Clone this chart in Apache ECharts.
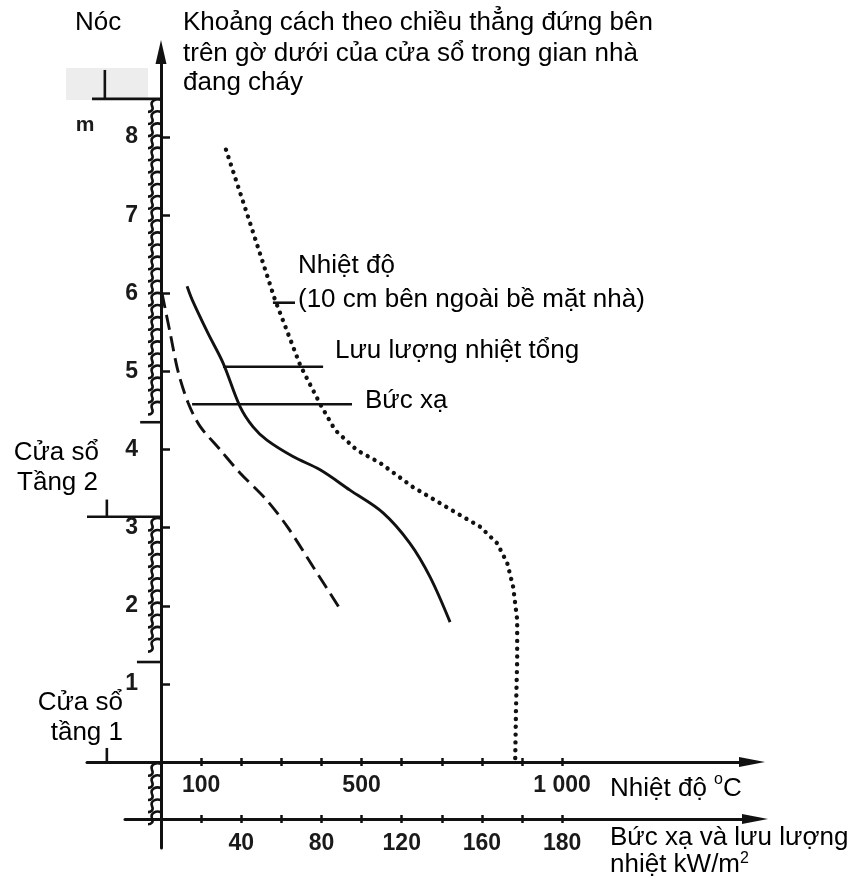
<!DOCTYPE html>
<html>
<head>
<meta charset="utf-8">
<script src="https://cdn.jsdelivr.net/npm/echarts@6/dist/echarts.min.js"></script>
<style>
  html, body { margin: 0; padding: 0; background: #fff; }
  #chart { width: 854px; height: 888px; }
</style>
</head>
<body>
<div id="chart"></div>
<script>
// ---- Axis ticks and labels ----
const heightTicks = [1, 2, 3, 4, 5, 6, 7, 8];                 // m
const tempTicks = [100, 200, 300, 400, 500, 600, 700, 800, 900, 1000];
const tempLabelValues = [100, 500, 1000];
const tempLabelTexts = ['100', '500', '1 000'];
const fluxTicks = [20, 40, 60, 80, 100, 120, 140, 160, 180, 200];
const fluxLabelValues = [40, 80, 120, 160, 200];
const fluxLabelTexts = ['40', '80', '120', '160', '180'];

// ---- Curves: value along the horizontal axis vs. height (m) ----
// Temperature 10 cm outside the facade (°C)
const tempHeights = [7.84, 6.98, 5.92, 5.08, 4.58, 4.25, 3.99, 3.83, 3.52, 3.26, 3.01, 2.80, 2.55, 2.24, 1.82, 1.31, 0.67, 0];
const tempValues  = [162, 217, 284, 347, 397, 434, 489, 546, 628, 713, 796, 838, 863, 878, 888, 888, 885, 883];
// Total heat flux (kW/m2)
const totalFluxHeights = [6.09, 5.92, 5.49, 5.11, 4.55, 4.29, 4.12, 3.91, 3.74, 3.48, 3.19, 2.80, 2.37, 1.79];
const totalFluxValues  = [13.0, 15.5, 23.4, 30.9, 39.4, 45.9, 52.8, 65.8, 79.3, 94.2, 110.7, 124.1, 134.1, 144.1];
// Radiation (kW/m2)
const radiationHeights = [6.0, 5.5, 5.0, 4.6, 4.3, 4.0, 3.7, 3.35, 3.0, 2.5, 1.92];
const radiationValues  = [0.5, 4.5, 8.5, 13.5, 19.4, 29.4, 39.4, 52.8, 63.3, 75.8, 90.2];

// Label leader lines
const tempLeader = [[279, 5.88], [334, 5.88]];
const totalFluxLeader = [[30.9, 5.06], [80.8, 5.06]];
const radiationLeader = [[15.5, 4.58], [95.2, 4.58]];

// Facade sketch left of the wall (temperature axis units, m)
const facadeLines = [
  [[-172, 8.49], [0, 8.49]],      // roof
  [[-140, 8.49], [-140, 8.86]],
  [[-184.5, 3.14], [0, 3.14]],    // 2nd floor window sill
  [[-135, 3.14], [-135, 3.36]],
  [[-135, 0], [-135, 0.18]],      // 1st floor window sill
  [[-52, 4.35], [0, 4.35]],       // 2nd floor window head
  [[-60, 1.28], [0, 1.28]]        // 1st floor window head
];
// Solid wall stretches (m) that get hatched
const wallRanges = [[8.40, 4.42], [3.04, 1.34], [-0.1, -0.72]];
const hatchStep = 0.155;

const pair = (xs, ys) => xs.map((v, i) => [v, ys[i]]);
const hatchData = [];
wallRanges.forEach(([top, bottom]) => {
  for (let h = top; h >= bottom - 1e-6; h -= hatchStep) hatchData.push([0, +h.toFixed(3)]);
});

const ink = '#111';
const TXT = '"Liberation Sans", Arial, sans-serif';
const tickFont = { fontFamily: TXT, fontSize: 23, fontWeight: 'bold', color: '#1a1a1a' };

// text width helper for the superscripts
const measureCtx = document.createElement('canvas').getContext('2d');
const textWidth = (s, font) => { measureCtx.font = font; return measureCtx.measureText(s).width; };

const chart = echarts.init(document.getElementById('chart'), null, { renderer: 'canvas' });

const lineSeries = (data, xi, yi, style) => ({
  type: 'line', xAxisIndex: xi, yAxisIndex: yi, data: data,
  showSymbol: false, symbol: 'none', silent: true, animation: false, clip: false,
  lineStyle: Object.assign({ color: ink, width: 2.6 }, style)
});

const textEl = (text, x, y, opt) => ({
  type: 'text', x: x, y: y, z: 100, silent: true,
  style: Object.assign({
    text: text, fill: '#000', font: '26px ' + TXT,
    align: 'left', verticalAlign: 'middle'
  }, opt || {})
});

const hiddenY = (gi, min, max) => ({ gridIndex: gi, type: 'value', min: min, max: max, show: false });
const tickStyle = { color: ink, width: 2.5 };
const noGridLines = { splitLine: { show: false } };
const G = (o) => Object.assign({ outerBoundsMode: 'none', containLabel: false }, o);

const option = {
  animation: false,
  backgroundColor: '#fff',
  grid: [
    G({ left: 161, right: 102, top: 52, bottom: 40 }),   // wall / height axis
    G({ left: 87, right: 102, top: 52, bottom: 126 }),   // temperature
    G({ left: 87, right: 102, top: 762, height: 10 }),   // temperature ticks, upper half
    G({ left: 125, right: 99, top: 52, bottom: 69 }),    // heat flux
    G({ left: 125, right: 99, top: 819, height: 10 })    // heat flux ticks, upper half
  ],
  xAxis: [
    Object.assign({ gridIndex: 0, type: 'value', min: 0, max: 100, show: false }, noGridLines),
    Object.assign({ // temperature axis
      gridIndex: 1, type: 'value', position: 'bottom', min: -184.5, max: 1473.4,
      axisLine: { onZero: false, symbol: ['none', 'triangle'], symbolSize: [10, 26],
        lineStyle: { color: ink, width: 3 } },
      axisTick: { show: true, inside: false, length: 4, customValues: tempTicks, lineStyle: tickStyle },
      axisLabel: Object.assign({ show: true, margin: 12, customValues: tempLabelValues,
        formatter: v => tempLabelTexts[tempLabelValues.indexOf(v)] }, tickFont)
    }, noGridLines),
    Object.assign({
      gridIndex: 2, type: 'value', position: 'top', min: -184.5, max: 1473.4,
      axisLine: { show: false, onZero: false },
      axisTick: { show: true, inside: false, length: 4, customValues: tempTicks, lineStyle: tickStyle },
      axisLabel: { show: false }
    }, noGridLines),
    Object.assign({ // heat flux axis
      gridIndex: 3, type: 'value', position: 'bottom', min: -17.95, max: 296.1,
      axisLine: { onZero: false, symbol: ['none', 'triangle'], symbolSize: [10, 26],
        lineStyle: { color: ink, width: 3 } },
      axisTick: { show: true, inside: false, length: 4, customValues: fluxTicks, lineStyle: tickStyle },
      axisLabel: Object.assign({ show: true, margin: 13, customValues: fluxLabelValues,
        formatter: v => fluxLabelTexts[fluxLabelValues.indexOf(v)] }, tickFont)
    }, noGridLines),
    Object.assign({
      gridIndex: 4, type: 'value', position: 'top', min: -17.95, max: 296.1,
      axisLine: { show: false, onZero: false },
      axisTick: { show: true, inside: false, length: 4, customValues: fluxTicks, lineStyle: tickStyle },
      axisLabel: { show: false }
    }, noGridLines)
  ],
  yAxis: [
    Object.assign({ // height above the lower window ledge
      gridIndex: 0, type: 'value', position: 'left', min: -1.101, max: 9.09,
      axisLine: { onZero: false, symbol: ['none', 'triangle'], symbolSize: [11, 24],
        lineStyle: { color: ink, width: 3 } },
      axisTick: { show: true, inside: true, length: 9, customValues: heightTicks, lineStyle: tickStyle },
      axisLabel: Object.assign({ show: true, margin: 23, customValues: heightTicks }, tickFont)
    }, noGridLines),
    hiddenY(1, 0, 9.09),
    hiddenY(2, -1, 1),
    hiddenY(3, -0.730, 9.09),
    hiddenY(4, -1, 1)
  ],
  series: [
    lineSeries(pair(tempValues, tempHeights), 1, 1,
      { width: 4.4, type: [0.01, 7.8], cap: 'round' }),
    Object.assign(lineSeries(pair(totalFluxValues, totalFluxHeights), 3, 3, { width: 2.9 }), { smooth: 0.35 }),
    Object.assign(lineSeries(pair(radiationValues, radiationHeights), 3, 3,
      { width: 2.9, type: [15, 7] }), { smooth: 0.3 }),
    lineSeries(tempLeader, 1, 1, { width: 2.6 }),
    lineSeries(totalFluxLeader, 3, 3, { width: 2.6 }),
    lineSeries(radiationLeader, 3, 3, { width: 2.6 }),
    ...facadeLines.map(seg => lineSeries(seg, 1, 1, { width: 2.6 })),
    {
      type: 'custom', xAxisIndex: 0, yAxisIndex: 0, data: hatchData, silent: true, clip: false,
      renderItem: (params, api) => {
        const p = api.coord([api.value(0), api.value(1)]);
        const x = p[0], y = p[1];
        return {
          type: 'path',
          shape: { pathData: `M${x} ${y - 6} C${x - 5} ${y - 8} ${x - 11} ${y - 5} ${x - 9} ${y} C${x - 7} ${y + 4} ${x - 10} ${y + 6} ${x - 13} ${y + 6}` },
          style: { fill: 'none', stroke: ink, lineWidth: 2.6 }
        };
      }
    }
  ],
  graphic: [
    { type: 'rect', z: -1, silent: true, shape: { x: 66, y: 68, width: 82, height: 32 }, style: { fill: '#ededed' } },
    textEl('Nóc', 75, 23),
    textEl('Khoảng cách theo chiều thẳng đứng bên', 183, 23),
    textEl('trên gờ dưới của cửa sổ trong gian nhà', 183, 54),
    textEl('đang cháy', 183, 83),
    textEl('m', 85, 125, { font: 'bold 21px ' + TXT, align: 'center', fill: '#1a1a1a' }),
    textEl('Nhiệt độ', 298, 266),
    textEl('(10 cm bên ngoài bề mặt nhà)', 298, 300),
    textEl('Lưu lượng nhiệt tổng', 335, 351),
    textEl('Bức xạ', 365, 401),
    textEl('Cửa sổ', 99, 453, { align: 'right' }),
    textEl('Tầng 2', 98, 483, { align: 'right' }),
    textEl('Cửa sổ', 123, 703, { align: 'right' }),
    textEl('tầng 1', 123, 733, { align: 'right' }),
    textEl('Nhiệt độ', 610, 789),
    textEl('o', 610 + textWidth('Nhiệt độ ', '26px ' + TXT), 780, { font: '16px ' + TXT }),
    textEl('C', 610 + textWidth('Nhiệt độ ', '26px ' + TXT) + textWidth('o', '16px ' + TXT), 789),
    textEl('Bức xạ và lưu lượng', 610, 838),
    textEl('nhiệt kW/m', 610, 865),
    textEl('2', 610 + textWidth('nhiệt kW/m', '26px ' + TXT), 859, { font: '16px ' + TXT })
  ]
};

chart.setOption(option);
</script>
</body>
</html>
